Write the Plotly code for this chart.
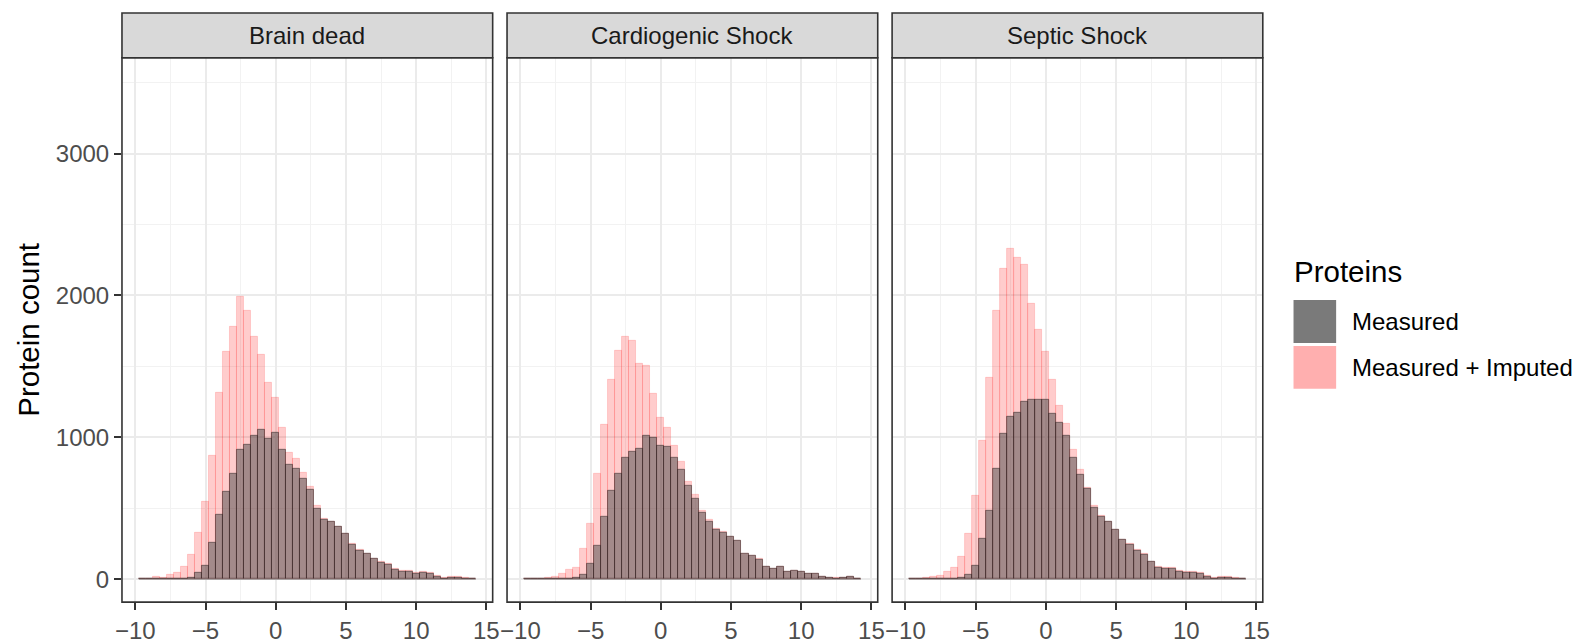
import plotly.graph_objects as go

# ---------------- data ----------------
bin_width = 0.5
first_center = -9.5
panels = ["Brain dead", "Cardiogenic Shock", "Septic Shock"]

brain_total = [3, 5, 14, 7, 30, 44, 84, 171, 330, 547,
               870, 1312, 1600, 1782, 1988, 1888, 1705, 1579, 1382, 1277,
               1067, 891, 849, 751, 653, 519, 428, 407, 372, 323,
               246, 204, 182, 147, 119, 105, 70, 56, 56, 42,
               49, 42, 21, 7, 14, 14, 7, 2]
brain_measured = [0, 0, 0, 0, 0, 0, 2, 7, 42, 91,
                  253, 456, 618, 744, 912, 947, 1011, 1053, 989, 1032,
                  912, 807, 779, 709, 632, 498, 421, 402, 372, 323,
                  244, 202, 180, 145, 117, 98, 68, 55, 55, 41,
                  48, 41, 20, 6, 13, 13, 6, 2]

cardio_total = [2, 2, 4, 9, 19, 37, 67, 79, 214, 393,
                742, 1091, 1405, 1607, 1705, 1677, 1519, 1502, 1307, 1140,
                1070, 937, 826, 686, 595, 484, 421, 358, 337, 302,
                274, 177, 163, 142, 86, 72, 86, 51, 58, 51,
                37, 37, 16, 9, 7, 9, 16, 2]
cardio_measured = [0, 0, 0, 0, 0, 0, 2, 7, 30, 107,
                   233, 442, 623, 742, 853, 895, 916, 1014, 993, 937,
                   930, 853, 770, 658, 567, 470, 407, 351, 330, 300,
                   272, 176, 162, 140, 85, 71, 85, 50, 57, 50,
                   36, 36, 15, 8, 6, 8, 15, 1]

septic_total = [2, 2, 7, 19, 23, 49, 77, 155, 323, 590,
                977, 1419, 1890, 2185, 2326, 2262, 2213, 1939, 1756, 1602,
                1405, 1222, 1096, 913, 773, 646, 520, 450, 407, 351,
                281, 246, 204, 176, 126, 84, 77, 77, 56, 49,
                49, 42, 21, 7, 14, 14, 7, 5]
septic_measured = [0, 0, 0, 0, 0, 0, 2, 7, 28, 91,
                   288, 485, 780, 1026, 1143, 1176, 1251, 1262, 1262, 1262,
                   1166, 1103, 1012, 857, 738, 639, 506, 443, 405, 350,
                   280, 245, 200, 175, 122, 83, 76, 76, 55, 48,
                   48, 41, 20, 6, 13, 13, 6, 4]

totals = [brain_total, cardio_total, septic_total]
measured = [brain_measured, cardio_measured, septic_measured]

x_tickvals = [-10, -5, 0, 5, 10, 15]
x_ticktext = ["\u221210", "\u22125", "0", "5", "10", "15"]
x_minor = [-7.5, -2.5, 2.5, 7.5, 12.5]
y_tickvals = [0, 1000, 2000, 3000]
y_ticktext = ["0", "1000", "2000", "3000"]
y_minor = [500, 1500, 2500, 3500]

legend_title = "Proteins"
legend_labels = ["Measured", "Measured + Imputed"]
legend_colors = ["#7A7A7A", "#FFAFAF"]

# ---------------- layout geometry ----------------
W, H = 1583, 644
FONT = "Liberation Sans, Arial, sans-serif"
SMALL = 24
BIG = 29.5
panel_px = [(116, 490), (504.5, 878.5), (893, 1267)]
plot_top, plot_bot = 58, 604
strip_top = 13
x_range = [-10.95, 15.45]
y_range = [-161.6, 3674.6]


def px(x):
    return x / W


def py(y):
    return 1 - y / H


centers = [first_center + i * bin_width for i in range(len(brain_total))]
edge_lo = centers[0] - bin_width / 2
edge_hi = centers[-1] + bin_width / 2

fig = go.Figure()
shapes = []
annotations = []

for i, name in enumerate(panels):
    sfx = "" if i == 0 else str(i + 1)
    xa, ya = "x" + sfx, "y" + sfx
    # zero-count bins outline along the baseline
    fig.add_trace(go.Scatter(x=[edge_lo, edge_hi], y=[0, 0], mode="lines",
                             line=dict(color="rgba(60,40,40,0.55)", width=1),
                             xaxis=xa, yaxis=ya, showlegend=False, hoverinfo="skip"))
    fig.add_trace(go.Bar(x=centers, y=totals[i], width=bin_width,
                         marker=dict(color="rgba(255,0,0,0.2)",
                                     line=dict(color="rgba(255,0,0,0.15)", width=1)),
                         xaxis=xa, yaxis=ya, showlegend=False, name="Measured + Imputed"))
    fig.add_trace(go.Bar(x=centers, y=measured[i], width=bin_width,
                         marker=dict(color="rgba(72,72,72,0.5)",
                                     line=dict(color="rgba(40,30,30,0.5)", width=1)),
                         xaxis=xa, yaxis=ya, showlegend=False, name="Measured"))

    x0, x1 = panel_px[i]
    xaxis = dict(domain=[px(x0), px(x1)], range=x_range, anchor=ya,
                 tickmode="array", tickvals=x_tickvals, ticktext=x_ticktext,
                 ticks="outside", ticklen=7, tickwidth=1.6, tickcolor="#333333",
                 tickfont=dict(family=FONT, size=SMALL, color="#4D4D4D"),
                 showgrid=True, gridcolor="#EBEBEB", gridwidth=2,
                 minor=dict(tickmode="array", tickvals=x_minor, showgrid=True,
                            gridcolor="#F2F2F2", gridwidth=1.2),
                 zeroline=False, showline=False, fixedrange=True)
    yaxis = dict(domain=[py(plot_bot), py(plot_top)], range=y_range, anchor=xa,
                 tickmode="array", tickvals=y_tickvals, ticktext=y_ticktext,
                 showticklabels=(i == 0), ticks="outside" if i == 0 else "",
                 ticklen=7, tickwidth=1.6, tickcolor="#333333",
                 tickfont=dict(family=FONT, size=SMALL, color="#4D4D4D"),
                 showgrid=True, gridcolor="#EBEBEB", gridwidth=2,
                 minor=dict(tickmode="array", tickvals=y_minor, showgrid=True,
                            gridcolor="#F2F2F2", gridwidth=1.2),
                 zeroline=False, showline=False, fixedrange=True)
    fig.layout["xaxis" + sfx] = xaxis
    fig.layout["yaxis" + sfx] = yaxis

    # panel border
    shapes.append(dict(type="rect", xref="paper", yref="paper",
                       x0=px(x0), x1=px(x1), y0=py(plot_bot), y1=py(plot_top),
                       line=dict(color="#333333", width=1.6), fillcolor="rgba(0,0,0,0)",
                       layer="above"))
    # strip
    shapes.append(dict(type="rect", xref="paper", yref="paper",
                       x0=px(x0), x1=px(x1), y0=py(plot_top), y1=py(strip_top),
                       line=dict(color="#333333", width=1.6), fillcolor="#D9D9D9",
                       layer="above"))
    annotations.append(dict(text=name, xref="paper", yref="paper",
                            x=px((x0 + x1) / 2), y=py((strip_top + plot_top) / 2),
                            xanchor="center", yanchor="middle", showarrow=False,
                            font=dict(family=FONT, size=SMALL, color="#1A1A1A")))

# y-axis title
annotations.append(dict(text="Protein count", xref="paper", yref="paper",
                        x=px(22), y=py((plot_top + plot_bot) / 2), textangle=-90,
                        xanchor="center", yanchor="middle", showarrow=False,
                        font=dict(family=FONT, size=BIG, color="#000000")))

# manual legend
annotations.append(dict(text=legend_title, xref="paper", yref="paper",
                        x=px(1296), y=py(272), xanchor="left", yanchor="middle",
                        showarrow=False, font=dict(family=FONT, size=BIG, color="#000000")))
key_tops = [301, 347]
for lab, col, top in zip(legend_labels, legend_colors, key_tops):
    shapes.append(dict(type="rect", xref="paper", yref="paper",
                       x0=px(1298), x1=px(1341), y0=py(top + 43), y1=py(top),
                       line=dict(width=0), fillcolor=col))
    annotations.append(dict(text=lab, xref="paper", yref="paper",
                            x=px(1355), y=py(top + 21.5), xanchor="left", yanchor="middle",
                            showarrow=False, font=dict(family=FONT, size=SMALL, color="#000000")))

fig.update_layout(width=W, height=H, margin=dict(l=0, r=0, t=0, b=0),
                  paper_bgcolor="white", plot_bgcolor="white",
                  barmode="overlay", bargap=0, showlegend=False,
                  shapes=shapes, annotations=annotations,
                  font=dict(family=FONT))

fig.write_html("out.html", config={"displayModeBar": False},
               post_script="document.body.style.margin='0';document.body.style.overflow='hidden';")
